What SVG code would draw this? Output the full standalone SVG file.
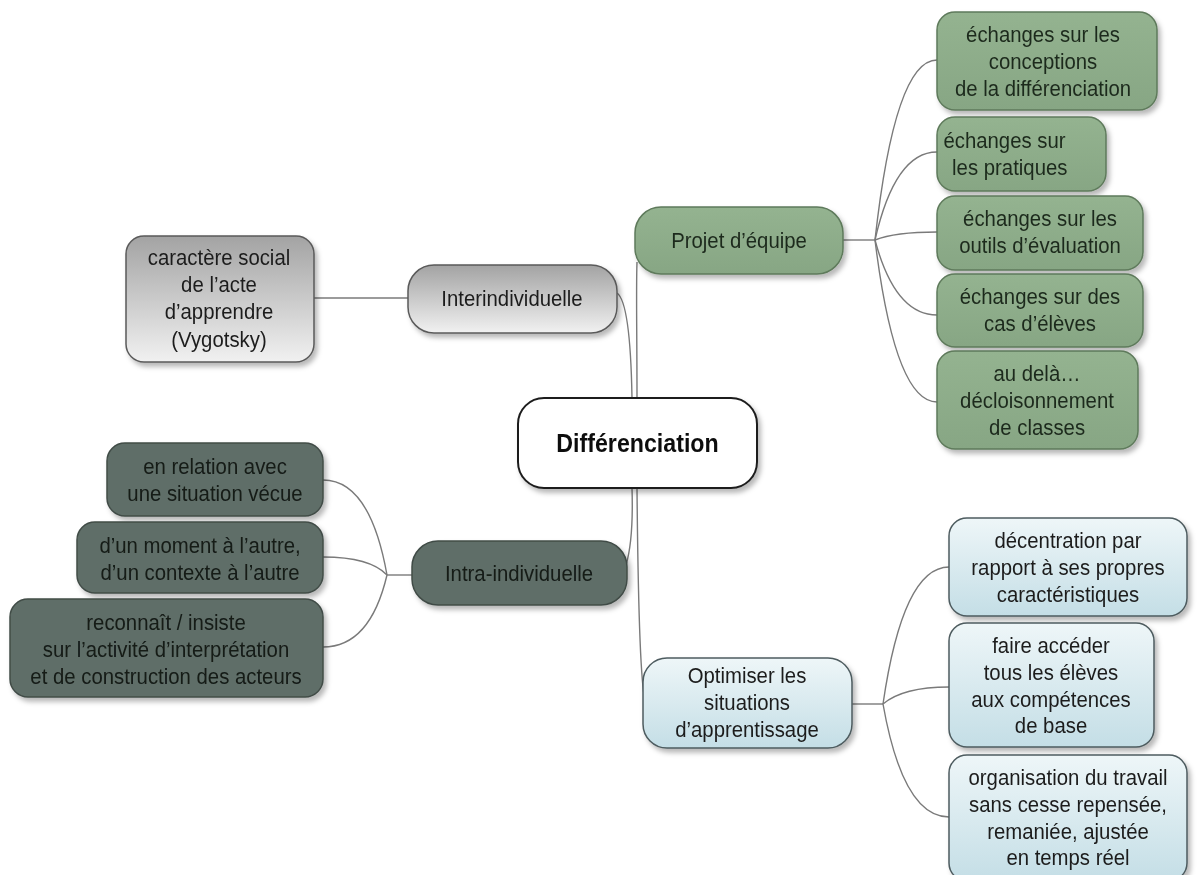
<svg xmlns="http://www.w3.org/2000/svg" width="1197" height="875" viewBox="0 0 1197 875">
<style>
.t{font-family:"Liberation Sans",Arial,sans-serif;font-size:23px;text-anchor:middle;fill:#1d1d1d}
.tb{font-family:"Liberation Sans",Arial,sans-serif;font-size:25.5px;font-weight:bold;text-anchor:middle;fill:#111}
.tg{fill:#1d2a1d}
.td{fill:#141a17}
.gray{fill:url(#gGray);stroke:#5a5a5a;stroke-width:1.5}
.green{fill:url(#gGreen);stroke:#5e7a5b;stroke-width:1.5}
.dark{fill:#5f6e67;stroke:#414c47;stroke-width:1.5}
.blue{fill:url(#gBlue);stroke:#4d5b5f;stroke-width:1.5}
.center{fill:#fff;stroke:#1e1e1e;stroke-width:2}
.c{fill:none;stroke:#7a7a7a;stroke-width:1.4}
</style>
<defs>
<linearGradient id="gGray" x1="0" y1="0" x2="0" y2="1"><stop offset="0" stop-color="#a3a3a3"/><stop offset="1" stop-color="#f1f1f1"/></linearGradient>
<linearGradient id="gGreen" x1="0" y1="0" x2="0" y2="1"><stop offset="0" stop-color="#94b390"/><stop offset="1" stop-color="#87a684"/></linearGradient>
<linearGradient id="gBlue" x1="0" y1="0" x2="0" y2="1"><stop offset="0" stop-color="#eef6f8"/><stop offset="1" stop-color="#c4dee6"/></linearGradient>
<filter id="sh" x="-10%" y="-10%" width="130%" height="140%"><feDropShadow dx="3" dy="4" stdDeviation="2.5" flood-color="#000" flood-opacity="0.28"/></filter>
</defs>
<rect width="1197" height="875" fill="#fff"/>

<g id="connectors">
<path class="c" d="M314,298 L408,298"/>
<path class="c" d="M617,293 C627,300 631,340 632,398"/>
<path class="c" d="M637,398 C637,330 636,290 637,262"/>
<path class="c" d="M632,488 C633,520 632,545 626,565"/>
<path class="c" d="M637,488 C638,600 640,680 645,700"/>
<path class="c" d="M843,240 L875,240"/>
<path class="c" d="M875,240 Q895,60 937,60"/>
<path class="c" d="M875,240 Q895,152 937,152"/>
<path class="c" d="M875,240 Q895,232 937,232"/>
<path class="c" d="M875,240 Q895,315 937,315"/>
<path class="c" d="M875,240 Q895,402 937,402"/>
<path class="c" d="M851,704 L883,704"/>
<path class="c" d="M883,704 Q903,567 949,567"/>
<path class="c" d="M883,704 Q903,687 949,687"/>
<path class="c" d="M883,704 Q903,817 949,817"/>
<path class="c" d="M412,575 L387,575"/>
<path class="c" d="M387,575 Q370,480 323,480"/>
<path class="c" d="M387,575 Q370,557 323,557"/>
<path class="c" d="M387,575 Q370,647 323,647"/>
</g>

<g id="n-center" filter="url(#sh)">
<rect class="center" x="518" y="398" width="239" height="90" rx="26"/>
<text class="tb" transform="matrix(0.91 0 0 1 637.5 0)"><tspan x="0" y="452">Différenciation</tspan></text>
</g>

<g id="n-caractere" filter="url(#sh)">
<rect class="gray" x="126" y="236" width="188" height="126" rx="18"/>
<text class="t" transform="matrix(0.885 0 0 1 219 0)"><tspan x="0" y="265">caractère social</tspan><tspan x="0" y="292">de l’acte</tspan><tspan x="0" y="319">d’apprendre</tspan><tspan x="0" y="347">(Vygotsky)</tspan></text>
</g>

<g id="n-inter" filter="url(#sh)">
<rect class="gray" x="408" y="265" width="209" height="68" rx="26"/>
<text class="t" transform="matrix(0.885 0 0 1 512 0)"><tspan x="0" y="306">Interindividuelle</tspan></text>
</g>

<g id="n-projet" filter="url(#sh)">
<rect class="green" x="635" y="207" width="208" height="67" rx="26"/>
<text class="t tg" transform="matrix(0.885 0 0 1 739 0)"><tspan x="0" y="248">Projet d’équipe</tspan></text>
</g>

<g id="n-b1" filter="url(#sh)">
<rect class="green" x="937" y="12" width="220" height="98" rx="18"/>
<text class="t tg" transform="matrix(0.885 0 0 1 1043 0)"><tspan x="0" y="42">échanges sur les</tspan><tspan x="0" y="69">conceptions</tspan><tspan x="0" y="96">de  la différenciation</tspan></text>
</g>

<g id="n-b2" filter="url(#sh)">
<rect class="green" x="937" y="117" width="169" height="74" rx="18"/>
<text class="t tg" transform="matrix(0.885 0 0 1 1008 0)"><tspan x="-4" y="148">échanges sur</tspan><tspan x="2" y="175">les pratiques</tspan></text>
</g>

<g id="n-b3" filter="url(#sh)">
<rect class="green" x="937" y="196" width="206" height="74" rx="18"/>
<text class="t tg" transform="matrix(0.885 0 0 1 1040 0)"><tspan x="0" y="226">échanges sur les</tspan><tspan x="0" y="253">outils d’évaluation</tspan></text>
</g>

<g id="n-b4" filter="url(#sh)">
<rect class="green" x="937" y="274" width="206" height="73" rx="18"/>
<text class="t tg" transform="matrix(0.885 0 0 1 1040 0)"><tspan x="0" y="304">échanges sur des</tspan><tspan x="0" y="331">cas d’élèves</tspan></text>
</g>

<g id="n-b5" filter="url(#sh)">
<rect class="green" x="937" y="351" width="201" height="98" rx="18"/>
<text class="t tg" transform="matrix(0.885 0 0 1 1037 0)"><tspan x="0" y="381">au delà…</tspan><tspan x="0" y="408">décloisonnement</tspan><tspan x="0" y="435">de classes</tspan></text>
</g>

<g id="n-intra" filter="url(#sh)">
<rect class="dark" x="412" y="541" width="215" height="64" rx="26"/>
<text class="t td" transform="matrix(0.885 0 0 1 519 0)"><tspan x="0" y="581">Intra-individuelle</tspan></text>
</g>

<g id="n-d1" filter="url(#sh)">
<rect class="dark" x="107" y="443" width="216" height="73" rx="18"/>
<text class="t td" transform="matrix(0.885 0 0 1 215 0)"><tspan x="0" y="474">en relation avec</tspan><tspan x="0" y="501">une situation vécue</tspan></text>
</g>

<g id="n-d2" filter="url(#sh)">
<rect class="dark" x="77" y="522" width="246" height="71" rx="18"/>
<text class="t td" transform="matrix(0.885 0 0 1 200 0)"><tspan x="0" y="553">d’un moment à l’autre,</tspan><tspan x="0" y="580">d’un contexte à l’autre</tspan></text>
</g>

<g id="n-d3" filter="url(#sh)">
<rect class="dark" x="10" y="599" width="313" height="98" rx="18"/>
<text class="t td" transform="matrix(0.885 0 0 1 166 0)"><tspan x="0" y="630">reconnaît / insiste</tspan><tspan x="0" y="657">sur l’activité d’interprétation</tspan><tspan x="0" y="684">et de construction des acteurs</tspan></text>
</g>

<g id="n-optimiser" filter="url(#sh)">
<rect class="blue" x="643" y="658" width="209" height="90" rx="24"/>
<text class="t" transform="matrix(0.885 0 0 1 747 0)"><tspan x="0" y="683">Optimiser les</tspan><tspan x="0" y="710">situations</tspan><tspan x="0" y="737">d’apprentissage</tspan></text>
</g>

<g id="n-c1" filter="url(#sh)">
<rect class="blue" x="949" y="518" width="238" height="98" rx="18"/>
<text class="t" transform="matrix(0.885 0 0 1 1068 0)"><tspan x="0" y="548">décentration par</tspan><tspan x="0" y="575">rapport à ses propres</tspan><tspan x="0" y="602">caractéristiques</tspan></text>
</g>

<g id="n-c2" filter="url(#sh)">
<rect class="blue" x="949" y="623" width="205" height="124" rx="18"/>
<text class="t" transform="matrix(0.885 0 0 1 1051 0)"><tspan x="0" y="653">faire accéder</tspan><tspan x="0" y="680">tous les élèves</tspan><tspan x="0" y="707">aux compétences</tspan><tspan x="0" y="733">de base</tspan></text>
</g>

<g id="n-c3" filter="url(#sh)">
<rect class="blue" x="949" y="755" width="238" height="126" rx="18"/>
<text class="t" transform="matrix(0.885 0 0 1 1068 0)"><tspan x="0" y="785">organisation du travail</tspan><tspan x="0" y="812">sans cesse repensée,</tspan><tspan x="0" y="839">remaniée, ajustée</tspan><tspan x="0" y="865">en temps réel</tspan></text>
</g>
</svg>
